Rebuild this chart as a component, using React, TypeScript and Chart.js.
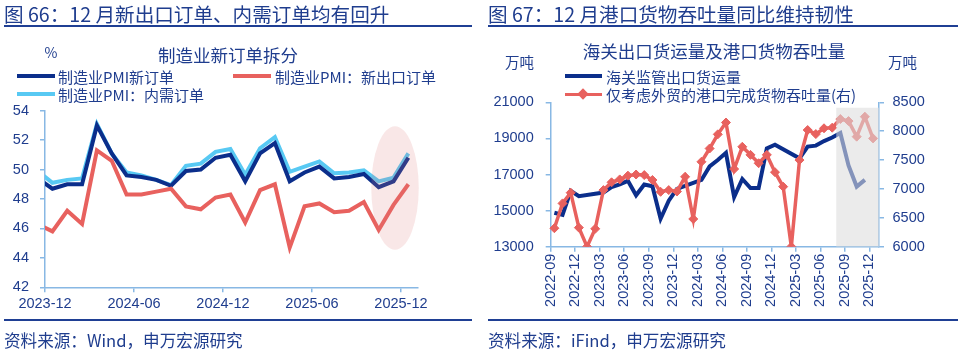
import React, { useEffect, useRef } from 'react';
import { Chart, registerables } from 'chart.js';

Chart.register(...registerables);

// ---------- Left chart data (制造业新订单拆分) ----------
const pmiMonths = ['2023-11','2023-12','2024-01','2024-02','2024-03','2024-04','2024-05','2024-06','2024-07','2024-08','2024-09','2024-10','2024-11','2024-12','2025-01','2025-02','2025-03','2025-04','2025-05','2025-06','2025-07','2025-08','2025-09','2025-10','2025-11','2025-12'];
const pmiNewOrders = [49.4,48.7,49.0,49.0,53.0,51.1,49.6,49.5,49.3,48.9,49.9,50.0,50.8,51.0,49.2,51.1,51.8,49.2,49.8,50.2,49.4,49.5,49.7,48.8,49.2,50.8];
const pmiExportOrders = [46.3,45.8,47.2,46.3,51.3,50.6,48.3,48.3,48.5,48.7,47.5,47.3,48.1,48.3,46.4,48.6,49.0,44.7,47.5,47.7,47.1,47.2,47.8,45.9,47.6,49.0];
const pmiDomesticOrders = [49.9,49.1,49.3,49.4,53.1,51.1,49.8,49.6,49.3,48.95,50.25,50.4,51.2,51.4,49.65,51.45,52.2,49.85,50.2,50.55,49.75,49.8,49.95,49.2,49.45,51.1];
const pmiTickLabels = ['2023-12','2024-06','2024-12','2025-06','2025-12'];
const pmiAxisStart = '2023-12';
const pmiYMin = 42;
const pmiYMax = 54;
const pmiYStep = 2;
const pmiHighlight = { centerMonth: '2025-11', halfMonths: 1.6, centerValue: 48.75, halfValue: 4.2 };

// ---------- Right chart data (海关出口货运量及港口货物吞吐量) ----------
const portMonths = ['2022-09','2022-10','2022-11','2022-12','2023-01','2023-02','2023-03','2023-04','2023-05','2023-06','2023-07','2023-08','2023-09','2023-10','2023-11','2023-12','2024-01','2024-02','2024-03','2024-04','2024-05','2024-06','2024-07','2024-08','2024-09','2024-10','2024-11','2024-12','2025-01','2025-02','2025-03','2025-04','2025-05','2025-06','2025-07','2025-08','2025-09','2025-10','2025-11','2025-12'];
const customsExportVolume: (number | null)[] = [14880,14760,16100,15800,null,null,16000,16300,16450,16650,15850,16450,16350,14550,15550,16200,null,null,16700,17450,17800,18200,15750,16750,16250,16250,18450,18650,null,null,17900,18550,18600,18850,19050,19300,17500,16330,16700,null];
const portThroughput = [6320,6750,6935,6330,6000,6310,6980,7115,7165,7230,7250,7240,7155,6950,6980,6955,7210,6480,7470,7700,7945,8150,7345,7730,7590,7445,7590,7290,7040,6000,7500,8020,7950,8050,8060,8210,8175,7905,8250,7875];
const portTickLabels = ['2022-09','2022-12','2023-03','2023-06','2023-09','2023-12','2024-03','2024-06','2024-09','2024-12','2025-03','2025-06','2025-09','2025-12'];
const portAxisStart = '2022-09';
const portLeftMin = 13000, portLeftMax = 21000, portLeftStep = 2000;
const portRightMin = 6000, portRightMax = 8500, portRightStep = 500;
const portShadeFromMonth = '2025-08';
const portShadeTopValue = 20700;

// ---------- Styles ----------
const TEXT = '#1f3d8e';
const DARK_BLUE = '#0b2e8b';
const LIGHT_BLUE = '#58c9f3';
const RED = '#e8615e';
const AXIS = '#88b8e4';
const RULE = '#1f3f94';
const CJK = '"Noto Sans CJK SC", "Liberation Sans", sans-serif';
const LATIN = '"Liberation Sans", Arial, sans-serif';

const mIndex = (m: string) => {
  const [y, mo] = m.split('-').map(Number);
  return y * 12 + mo - 1;
};

function pmiPoints(values: number[]) {
  const base = mIndex(pmiAxisStart);
  return values.map((v, i) => ({ x: mIndex(pmiMonths[i]) - base, y: v }));
}
function portPoints(values: (number | null)[]) {
  const base = mIndex(portAxisStart);
  return values.map((v, i) => ({ x: mIndex(portMonths[i]) - base, y: v }));
}

const plainNumber = (v: any) => String(v);

function LeftChart() {
  const ref = useRef<HTMLCanvasElement>(null);
  useEffect(() => {
    const base = mIndex(pmiAxisStart);
    const ellipsePlugin = {
      id: 'pmiEllipse',
      afterDatasetsDraw(chart: any) {
        const { ctx, scales } = chart;
        const xs = scales.x, ys = scales.y;
        const cxv = mIndex(pmiHighlight.centerMonth) - base + 0.1;
        const cx = xs.getPixelForValue(cxv);
        const rx = Math.abs(xs.getPixelForValue(cxv + pmiHighlight.halfMonths) - cx);
        const cy = ys.getPixelForValue(pmiHighlight.centerValue);
        const ry = Math.abs(ys.getPixelForValue(pmiHighlight.centerValue + pmiHighlight.halfValue) - cy);
        ctx.save();
        ctx.beginPath();
        ctx.ellipse(cx, cy, rx, ry, 0, 0, Math.PI * 2);
        ctx.fillStyle = 'rgba(222,120,120,0.18)';
        ctx.fill();
        ctx.restore();
      },
    };
    const tickFont = { family: LATIN, size: 14.5 };
    const clip = { left: 0, top: 6, right: 6, bottom: 6 } as any;
    const chart = new Chart(ref.current!, {
      type: 'line',
      data: {
        datasets: [
          { label: '制造业PMI：新出口订单', data: pmiPoints(pmiExportOrders), borderColor: RED, borderWidth: 4, pointRadius: 0, order: 1, clip },
          { label: '制造业PMI新订单', data: pmiPoints(pmiNewOrders), borderColor: DARK_BLUE, borderWidth: 4, pointRadius: 0, order: 2, clip },
          { label: '制造业PMI：内需订单', data: pmiPoints(pmiDomesticOrders), borderColor: LIGHT_BLUE, borderWidth: 4, pointRadius: 0, order: 3, clip },
        ],
      },
      options: {
        animation: false,
        responsive: false,
        maintainAspectRatio: false,
        layout: { padding: { left: 0, top: 110.7, right: 62, bottom: 0 } },
        plugins: { legend: { display: false }, title: { display: false }, tooltip: { enabled: false } },
        scales: {
          x: {
            type: 'linear',
            min: -0.5,
            max: 24.65,
            afterBuildTicks: (s: any) => {
              s.ticks = pmiTickLabels.map((l) => ({ value: mIndex(l) - base - 0.5 }));
            },
            afterFit: (s: any) => { s.height = 65.7; },
            ticks: { autoSkip: false, maxRotation: 0, minRotation: 0, color: TEXT, font: tickFont, padding: 3, callback: (_v: any, i: number) => pmiTickLabels[i] },
            grid: { drawOnChartArea: false, drawTicks: true, tickLength: 5, color: AXIS, lineWidth: 1.5 },
            border: { display: true, color: AXIS, width: 1.5 },
          },
          y: {
            type: 'linear',
            min: pmiYMin,
            max: pmiYMax,
            afterFit: (s: any) => { s.width = 45; },
            ticks: { stepSize: pmiYStep, color: TEXT, font: tickFont, padding: 11, callback: plainNumber },
            grid: { drawOnChartArea: false, drawTicks: true, tickLength: 5, color: AXIS, lineWidth: 1.5 },
            border: { display: true, color: AXIS, width: 1.5 },
          },
        },
      } as any,
      plugins: [ellipsePlugin],
    });
    return () => chart.destroy();
  }, []);
  return <canvas ref={ref} width={480} height={353} style={{ position: 'absolute', left: 0, top: 0, width: 480, height: 353 }} />;
}

function RightChart() {
  const ref = useRef<HTMLCanvasElement>(null);
  useEffect(() => {
    const base = mIndex(portAxisStart);
    const shadePlugin = {
      id: 'portShade',
      afterDatasetsDraw(chart: any) {
        const { ctx, scales, chartArea } = chart;
        const x0 = scales.x.getPixelForValue(mIndex(portShadeFromMonth) - base - 0.5);
        const yTop = scales.y.getPixelForValue(portShadeTopValue);
        ctx.save();
        ctx.fillStyle = 'rgba(221,221,221,0.58)';
        ctx.fillRect(x0, yTop, chartArea.right - x0, chartArea.bottom - yTop);
        ctx.restore();
      },
    };
    const tickFont = { family: LATIN, size: 14.5 };
    const chart = new Chart(ref.current!, {
      type: 'line',
      data: {
        datasets: [
          {
            label: '仅考虑外贸的港口完成货物吞吐量(右)', data: portPoints(portThroughput), yAxisID: 'y1',
            borderColor: RED, borderWidth: 3.5, pointStyle: 'rectRot', pointRadius: 4.5, pointBackgroundColor: RED, pointBorderColor: RED, pointBorderWidth: 1, order: 1,
            clip: { left: 6, top: 6, right: 6, bottom: 0 } as any,
          },
          {
            label: '海关监管出口货运量', data: portPoints(customsExportVolume), yAxisID: 'y',
            borderColor: DARK_BLUE, borderWidth: 4, pointRadius: 0, spanGaps: true, order: 2,
          },
        ],
      },
      options: {
        animation: false,
        responsive: false,
        maintainAspectRatio: false,
        layout: { padding: { left: 0, top: 102.3, right: 0, bottom: 0 } },
        plugins: { legend: { display: false }, title: { display: false }, tooltip: { enabled: false } },
        scales: {
          x: {
            type: 'linear',
            min: -0.45,
            max: 39.73,
            afterBuildTicks: (s: any) => {
              s.ticks = portTickLabels.map((l) => ({ value: mIndex(l) - base - 0.45 }));
            },
            afterFit: (s: any) => { s.height = 106.3; },
            ticks: { autoSkip: false, maxRotation: 90, minRotation: 90, color: TEXT, font: tickFont, padding: 2, callback: (_v: any, i: number) => portTickLabels[i] },
            grid: { drawOnChartArea: false, drawTicks: true, tickLength: 5, color: AXIS, lineWidth: 1.5 },
            border: { display: true, color: AXIS, width: 1.5 },
          },
          y: {
            type: 'linear',
            position: 'left',
            min: portLeftMin,
            max: portLeftMax,
            afterFit: (s: any) => { s.width = 70.7; },
            ticks: { stepSize: portLeftStep, color: TEXT, font: tickFont, padding: 12, callback: plainNumber },
            grid: { drawOnChartArea: false, drawTicks: true, tickLength: 5, color: AXIS, lineWidth: 1.5 },
            border: { display: true, color: AXIS, width: 1.5 },
          },
          y1: {
            type: 'linear',
            position: 'right',
            min: portRightMin,
            max: portRightMax,
            afterFit: (s: any) => { s.width = 81; },
            ticks: { stepSize: portRightStep, color: TEXT, font: tickFont, padding: 8.5, callback: plainNumber },
            grid: { drawOnChartArea: false, drawTicks: true, tickLength: 5, color: AXIS, lineWidth: 1.5 },
            border: { display: true, color: AXIS, width: 1.5 },
          },
        },
      } as any,
      plugins: [shadePlugin],
    });
    return () => chart.destroy();
  }, []);
  return <canvas ref={ref} width={480} height={353} style={{ position: 'absolute', left: 480, top: 0, width: 480, height: 353 }} />;
}

function T(props: { x: number; y: number; size: number; center?: boolean; children: React.ReactNode }) {
  const { x, y, size, center, children } = props;
  return (
    <div
      style={{
        position: 'absolute', left: x, top: y, fontSize: size, lineHeight: 1, fontFamily: CJK, color: TEXT,
        whiteSpace: 'nowrap', transform: center ? 'translate(-50%, -50%)' : 'translateY(-50%)',
      }}
    >
      {children}
    </div>
  );
}

function Bar(props: { x: number; y: number; w: number; h: number; color: string }) {
  const { x, y, w, h, color } = props;
  return <div style={{ position: 'absolute', left: x, top: y, width: w, height: h, background: color }} />;
}

export default function App() {
  useEffect(() => {
    document.body.style.margin = '0';
  }, []);
  return (
    <div style={{ position: 'absolute', left: 0, top: 0, width: 960, height: 353, background: '#fff', overflow: 'hidden' }}>
      <LeftChart />
      <RightChart />

      {/* Left panel texts */}
      <T x={4} y={13.5} size={19.6}>图 66：12 月新出口订单、内需订单均有回升</T>
      <Bar x={4} y={25} w={468} h={2} color={RULE} />
      <T x={51} y={52} size={14} center>%</T>
      <T x={228} y={54.5} size={17.5} center>制造业新订单拆分</T>
      <Bar x={17} y={74} w={38} h={4} color={DARK_BLUE} />
      <T x={58} y={76} size={15}>制造业PMI新订单</T>
      <Bar x={233} y={74} w={38} h={4} color={RED} />
      <T x={275} y={76} size={15}>制造业PMI：新出口订单</T>
      <Bar x={17} y={92.3} w={38} h={4} color={LIGHT_BLUE} />
      <T x={58} y={94.3} size={15}>制造业PMI：内需订单</T>
      <Bar x={4} y={319} w={468} h={2} color={RULE} />
      <T x={4} y={340} size={16.6}>资料来源：Wind，申万宏源研究</T>

      {/* Right panel texts */}
      <T x={488} y={13.5} size={19.6}>图 67：12 月港口货物吞吐量同比维持韧性</T>
      <Bar x={488} y={25} w={470} h={2} color={RULE} />
      <T x={714} y={50.5} size={17.5} center>海关出口货运量及港口货物吞吐量</T>
      <T x={505} y={62} size={14.5}>万吨</T>
      <T x={888} y={62} size={14.5}>万吨</T>
      <Bar x={565} y={74} w={37} h={4} color={DARK_BLUE} />
      <T x={606} y={76} size={15}>海关监管出口货运量</T>
      <Bar x={565} y={92.5} w={37} h={3.5} color={RED} />
      <div style={{ position: 'absolute', left: 583 - 4, top: 94.3 - 4, width: 8, height: 8, background: RED, transform: 'rotate(45deg)' }} />
      <T x={606} y={94.3} size={15}>仅考虑外贸的港口完成货物吞吐量(右)</T>
      <Bar x={488} y={319} w={470} h={2} color={RULE} />
      <T x={488} y={340} size={16.6}>资料来源：iFind，申万宏源研究</T>
    </div>
  );
}
